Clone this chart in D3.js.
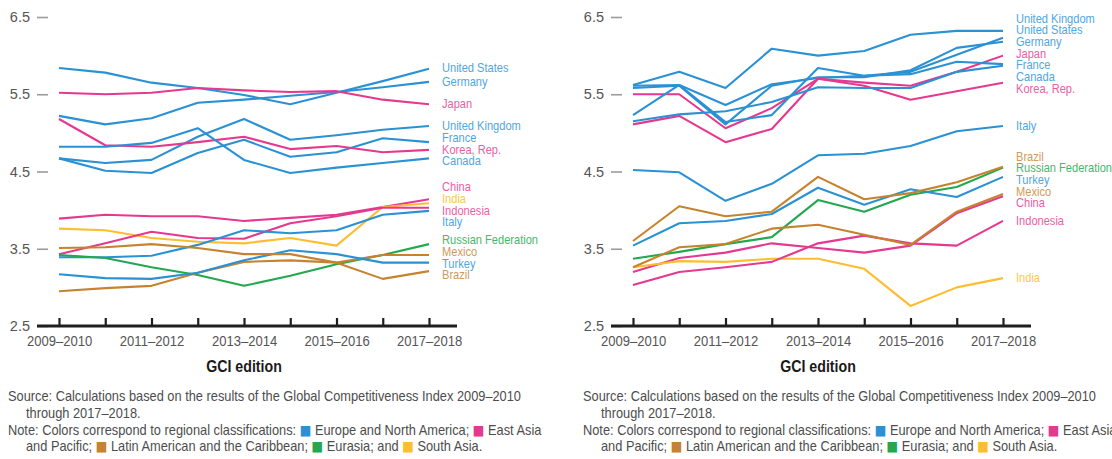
<!DOCTYPE html>
<html>
<head>
<meta charset="utf-8">
<script src="https://cdn.jsdelivr.net/npm/d3@7/dist/d3.min.js"></script>
<style>
body { margin: 0; background: #fff; }
svg text { font-family: "Liberation Sans", Arial, sans-serif; }
</style>
</head>
<body>
<svg id="chart" width="1112" height="459"></svg>
<script>
"use strict"

var editions = ["2009–2010", "2010–2011", "2011–2012", "2012–2013", "2013–2014",
                "2014–2015", "2015–2016", "2016–2017", "2017–2018"];
var labelledEditions = ["2009–2010", "2011–2012", "2013–2014", "2015–2016", "2017–2018"];
var scoreTicks = [6.5, 5.5, 4.5, 3.5, 2.5];

//left panel
var usL = [5.84, 5.78, 5.65, 5.58, 5.49, 5.37, 5.52, 5.67, 5.83];
var deL = [5.22, 5.11, 5.19, 5.39, 5.43, 5.48, 5.53, 5.59, 5.66];
var jpL = [5.52, 5.50, 5.52, 5.58, 5.55, 5.53, 5.54, 5.43, 5.37];
var ukL = [4.67, 4.61, 4.65, 4.95, 5.18, 4.91, 4.97, 5.04, 5.09];
var frL = [4.67, 4.51, 4.48, 4.74, 4.91, 4.69, 4.75, 4.93, 4.88];
var krL = [5.18, 4.84, 4.82, 4.88, 4.95, 4.79, 4.83, 4.75, 4.78];
var caL = [4.82, 4.82, 4.87, 5.06, 4.65, 4.48, 4.55, 4.61, 4.67];
var cnL = [3.89, 3.94, 3.92, 3.92, 3.86, 3.90, 3.94, 4.04, 4.14];
var inL = [3.76, 3.74, 3.64, 3.59, 3.57, 3.64, 3.54, 4.04, 4.09];
var idL = [3.43, 3.57, 3.72, 3.64, 3.63, 3.83, 3.92, 4.03, 4.03];
var itL = [3.39, 3.39, 3.41, 3.55, 3.74, 3.70, 3.74, 3.94, 3.99];
var ruL = [3.42, 3.38, 3.26, 3.16, 3.02, 3.15, 3.30, 3.42, 3.56];
var mxL = [2.95, 2.99, 3.02, 3.19, 3.33, 3.35, 3.32, 3.42, 3.42];
var trL = [3.17, 3.12, 3.11, 3.19, 3.35, 3.48, 3.43, 3.32, 3.32];
var brL = [3.51, 3.52, 3.56, 3.51, 3.43, 3.43, 3.32, 3.11, 3.21];

//right panel
var ukR = [5.62, 5.79, 5.58, 6.09, 6.00, 6.06, 6.27, 6.32, 6.32];
var usR = [5.61, 5.62, 5.36, 5.63, 5.71, 5.74, 5.79, 6.01, 6.23];
var deR = [5.58, 5.61, 5.11, 5.61, 5.72, 5.72, 5.81, 6.10, 6.18];
var jpR = [5.50, 5.50, 5.06, 5.32, 5.70, 5.65, 5.61, 5.79, 6.00];
var frR = [5.23, 5.62, 5.14, 5.23, 5.84, 5.74, 5.76, 5.92, 5.89];
var caR = [5.15, 5.24, 5.28, 5.40, 5.59, 5.58, 5.58, 5.79, 5.87];
var krR = [5.11, 5.22, 4.88, 5.05, 5.70, 5.61, 5.43, 5.54, 5.65];
var itR = [4.52, 4.49, 4.12, 4.34, 4.71, 4.73, 4.83, 5.02, 5.09];
var brR = [3.60, 4.05, 3.92, 3.98, 4.43, 4.14, 4.22, 4.36, 4.56];
var ruR = [3.37, 3.46, 3.56, 3.65, 4.13, 3.98, 4.20, 4.30, 4.55];
var trR = [3.54, 3.83, 3.86, 3.95, 4.29, 4.07, 4.27, 4.17, 4.43];
var mxR = [3.26, 3.52, 3.56, 3.76, 3.81, 3.68, 3.55, 3.98, 4.21];
var cnR = [3.20, 3.38, 3.45, 3.57, 3.51, 3.45, 3.54, 3.96, 4.18];
var idR = [3.03, 3.20, 3.26, 3.33, 3.57, 3.67, 3.57, 3.54, 3.86];
var inR = [3.26, 3.34, 3.33, 3.37, 3.37, 3.24, 2.76, 3.00, 3.12];

var countryNames = ["United States", "Germany", "Japan", "United Kingdom", "France", "Korea, Rep.",
                    "Canada", "China", "India", "Indonesia", "Italy", "Russian Federation",
                    "Mexico", "Turkey", "Brazil"];
var countryRegions = ["eur", "eur", "eap", "eur", "eur", "eap", "eur", "eap", "sas", "eap",
                      "eur", "eurasia", "lac", "eur", "lac"];

var leftValues = [usL, deL, jpL, ukL, frL, krL, caL, cnL, inL, idL, itL, ruL, mxL, trL, brL];
var rightValues = [usR, deR, jpR, ukR, frR, krR, caR, cnR, inR, idR, itR, ruR, mxR, trR, brR];

var lineColor = {eur: "#2a91d4", eap: "#e5388f", lac: "#c6832e", eurasia: "#22a84f", sas: "#fdbd30"};
var labelColor = {eur: "#50a6df", eap: "#ec5ea4", lac: "#d09a57", eurasia: "#45b86a", sas: "#fdc84f"};

//the reference uses a condensed face, none is installed, so texts get squeezed
var NARROW = 0.86;
var LABEL_NARROW = 0.84;
var NOTE_NARROW = 0.915;

var svg = d3.select("#chart");

var x = d3.scalePoint().domain(editions).range([59, 429]);
var y = d3.scaleLinear().domain([2.5, 6.5]).range([326, 17]);

//squeeze a text horizontally around its own anchor point
function condense(sel, k){
    sel.each(function(){
        var t = d3.select(this);
        var tx = +t.attr("x") || 0, ty = +t.attr("y") || 0;
        t.attr("x", 0).attr("y", 0)
         .attr("transform", "translate(" + tx + "," + ty + ") scale(" + (k || NARROW) + ",1)");
    });
}

//stack end labels so they do not overlap, keeping each group centred on its lines
function spreadLabels(items, gap){

    items.sort(function(a, b){ return a.y0 - b.y0; });
    var groups = [];

    items.forEach(function(d){
        groups.push({m: [d], top: d.y0});
        while(groups.length > 1){
            var a = groups[groups.length - 2], b = groups[groups.length - 1];
            var aBottom = a.top + (a.m.length - 1) * gap;
            if(b.top - aBottom >= gap) break;
            var m = a.m.concat(b.m);
            var mean = d3.mean(m, function(e){ return e.y0; });
            groups.splice(-2, 2, {m: m, top: mean - (m.length - 1) * gap / 2});
        }
    });

    groups.forEach(function(g){
        g.m.forEach(function(d, i){ d.y = g.top + i * gap; });
    });
    return items;
}

function drawPanel(offset, values){

    var g = svg.append("g").attr("transform", "translate(" + offset + ",0)");

    var yAxis = d3.axisLeft(y).tickValues(scoreTicks).tickFormat(d3.format(".1f"))
        .tickSize(11).tickPadding(7);
    var ya = g.append("g").attr("transform", "translate(48,0)").call(yAxis);
    ya.select(".domain").remove();
    ya.selectAll(".tick line").attr("stroke", "#9c9c9c").attr("stroke-width", 1.6);
    ya.selectAll(".tick text").attr("fill", "#555")
        .style("font-family", "'Liberation Sans', Arial, sans-serif").style("font-size", "14.5px");

    var xAxis = d3.axisBottom(x).tickSizeInner(-8).tickSizeOuter(0).tickPadding(10)
        .tickFormat(function(d){ return labelledEditions.indexOf(d) >= 0 ? d : ""; });
    var xa = g.append("g").attr("transform", "translate(0,326)").call(xAxis);
    xa.select(".domain").remove();
    xa.selectAll(".tick line").attr("stroke", "#1e1e1e").attr("stroke-width", 2.2);
    xa.selectAll(".tick text").attr("fill", "#555").style("font-size", "14.5px")
        .attr("transform", "scale(0.9,1)");

    g.append("line").attr("x1", 37).attr("x2", 457).attr("y1", 326).attr("y2", 326)
        .attr("stroke", "#1e1e1e").attr("stroke-width", 3);

    g.append("text").attr("x", x(editions[4])).attr("y", 372).attr("text-anchor", "middle")
        .attr("fill", "#1a1a1a").style("font-size", "16.5px").style("font-weight", "bold")
        .text("GCI edition")
        .call(condense);

    var series = values.map(function(v, i){
        return {name: countryNames[i], region: countryRegions[i], values: v};
    });

    var line = d3.line()
        .x(function(d, i){ return x(editions[i]); })
        .y(function(d){ return y(d); });

    g.selectAll("path.series").data(series).enter().append("path")
        .attr("class", "series")
        .attr("d", function(d){ return line(d.values); })
        .attr("fill", "none")
        .attr("stroke", function(d){ return lineColor[d.region]; })
        .attr("stroke-width", 2.1)
        .attr("stroke-linejoin", "round");

    var labels = spreadLabels(series.map(function(d){
        return {s: d, y0: y(d.values[d.values.length - 1])};
    }), 11.7);

    g.selectAll("text.country").data(labels).enter().append("text")
        .attr("class", "country")
        .attr("x", x(editions[editions.length - 1]) + 13)
        .attr("y", function(d){ return d.y - 1; })
        .attr("dy", "0.35em")
        .attr("fill", function(d){ return labelColor[d.s.region]; })
        .style("font-size", "13.2px")
        .text(function(d){ return d.s.name; })
        .call(condense, LABEL_NARROW);
}

drawPanel(0, leftValues);
drawPanel(574, rightValues);

//source and note, repeated under each panel
var noteLines = [
    [{t: "Source: Calculations based on the results of the Global Competitiveness Index 2009–2010"}],
    [{t: "through 2017–2018."}],
    [{t: "Note: Colors correspond to regional classifications: "}, {sq: "eur"},
     {t: " Europe and North America; "}, {sq: "eap"}, {t: " East Asia"}],
    [{t: "and Pacific; "}, {sq: "lac"}, {t: " Latin American and the Caribbean; "}, {sq: "eurasia"},
     {t: " Eurasia; and "}, {sq: "sas"}, {t: " South Asia."}]
];
var noteIndent = [0, 18, 0, 18];
var noteBaselines = [401, 418, 435, 451];

[8, 583].forEach(function(left){
    noteLines.forEach(function(parts, i){
        var t = svg.append("text")
            .attr("x", left + noteIndent[i]).attr("y", noteBaselines[i])
            .attr("fill", "#4d4d4d").style("font-size", "14px");
        parts.forEach(function(p){
            if(p.sq){
                t.append("tspan").attr("fill", lineColor[p.sq])
                    .style("font-family", "'DejaVu Sans', sans-serif").style("font-size", "13.5px")
                    .text("■");
            }else{
                t.append("tspan").text(p.t);
            }
        });
        condense(t, NOTE_NARROW);
    });
});
</script>
</body>
</html>
